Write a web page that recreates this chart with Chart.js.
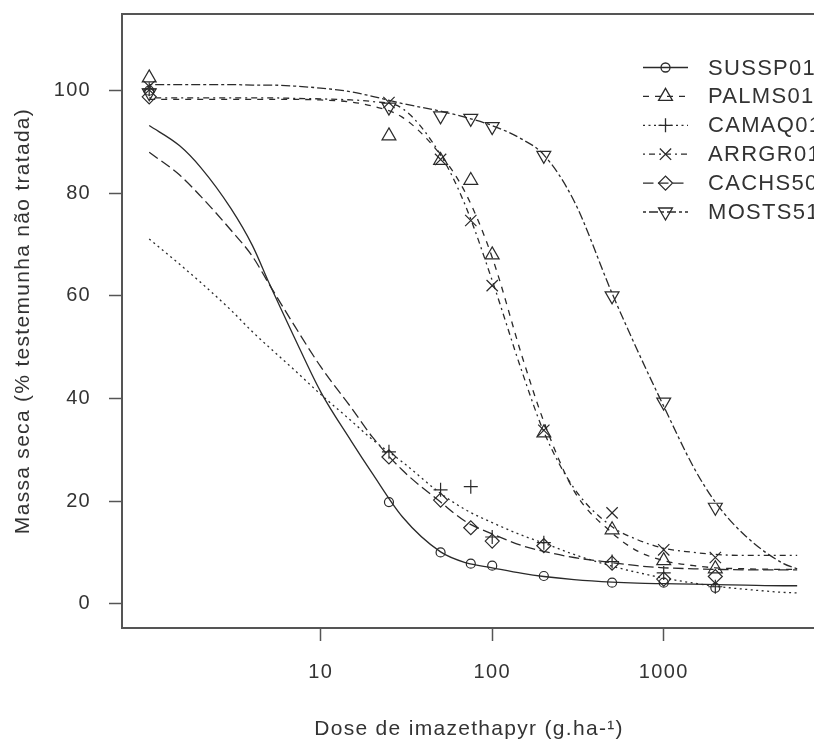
<!doctype html>
<html lang="pt">
<head>
<meta charset="UTF-8">
<title>Massa seca x dose de imazethapyr</title>
<style>
  html, body { margin: 0; padding: 0; background: #fff; overflow: hidden; }
  #wrap { width: 830px; height: 745px; }
</style>
</head>
<body>
<div id="wrap"><canvas id="grafico" width="830" height="745"></canvas></div>
<script src="https://cdn.jsdelivr.net/npm/chart.js"></script>
<script>
// doses observadas (a testemunha, dose 0, aparece em 1 no eixo log)
const doses = [1, 25, 50, 75, 100, 200, 500, 1000, 2000];
const obsSUSSP01 = [100, 19.8, 10.0, 7.8, 7.4, 5.4, 4.1, 4.1, 3.1];
const obsPALMS01 = [102.5, 91.2, 86.4, 82.5, 68.0, 33.3, 14.4, 8.4, 6.8];
const obsCAMAQ01 = [100.3, 29.6, 22.2, 22.8, 13.0, 11.9, 8.2, 6.0, 3.3];
const obsARRGR01 = [100.8, 97.7, 86.6, 74.7, 62.0, 33.8, 17.7, 10.5, 9.0];
const obsCACHS50 = [98.8, 28.6, 20.2, 14.8, 12.2, 11.3, 7.9, 4.8, 5.3];
const obsMOSTS51 = [99.6, 96.8, 95.1, 94.6, 93.0, 87.4, 60.0, 39.3, 18.8];

// curvas ajustadas
const dosesCurva = [1, 1.5, 2, 3, 4, 5, 7, 10, 15, 20, 30, 50, 70, 100, 150, 200, 300, 500, 700, 1000, 1500, 2000, 3000, 5000, 6000];
const curvaSUSSP01 = [93.2, 89.3, 85.0, 77.0, 69.8, 62.5, 52.0, 41.3, 31.8, 25.4, 16.9, 10.1, 8.0, 7.0, 5.9, 5.3, 4.7, 4.2, 4.0, 3.9, 3.8, 3.7, 3.6, 3.5, 3.5];
const curvaPALMS01 = [98.3, 98.3, 98.3, 98.3, 98.3, 98.3, 98.3, 98.2, 97.8, 97.0, 94.8, 87.5, 80.0, 67.5, 48.0, 35.5, 22.0, 13.8, 10.3, 8.4, 7.4, 7.0, 6.8, 6.7, 6.7];
const curvaCAMAQ01 = [71.1, 66.2, 62.6, 57.2, 53.0, 50.0, 45.6, 40.8, 35.7, 32.0, 27.6, 21.5, 18.3, 15.8, 13.3, 11.8, 9.6, 7.3, 6.1, 5.0, 4.0, 3.4, 2.8, 2.2, 2.1];
const curvaARRGR01 = [98.6, 98.6, 98.6, 98.6, 98.6, 98.6, 98.5, 98.4, 98.2, 97.9, 96.5, 87.5, 77.5, 63.0, 45.0, 33.5, 22.5, 15.0, 12.5, 10.8, 10.0, 9.6, 9.4, 9.4, 9.4];
const curvaCACHS50 = [88.0, 83.6, 79.4, 72.8, 67.7, 62.3, 54.3, 46.2, 38.3, 32.5, 26.0, 19.8, 16.0, 13.6, 11.3, 10.2, 9.0, 8.0, 7.4, 7.0, 6.8, 6.7, 6.6, 6.6, 6.6];
const curvaMOSTS51 = [101.2, 101.2, 101.2, 101.2, 101.1, 101.1, 100.9, 100.5, 99.8, 98.9, 97.5, 96.0, 94.8, 93.2, 90.5, 87.5, 78.5, 60.5, 49.5, 38.5, 26.5, 19.8, 13.2, 7.8, 6.8];

const ticksX = [10, 100, 1000];
const ticksY = [0, 20, 40, 60, 80, 100];

const fonte = '"Liberation Sans", Arial, sans-serif';
const cor = '#2a2a2a';
const corTexto = '#333';

// estilo de cada acesso: nome, simbolo, tracejado
const series = [
  { nome: 'SUSSP01', obs: obsSUSSP01, curva: curvaSUSSP01, ponto: 'circle',   raio: 4.5, rot: 0,   traco: [] },
  { nome: 'PALMS01', obs: obsPALMS01, curva: curvaPALMS01, ponto: 'triangle', raio: 8,   rot: 0,   traco: [6, 6] },
  { nome: 'CAMAQ01', obs: obsCAMAQ01, curva: curvaCAMAQ01, ponto: 'cross',    raio: 7,   rot: 0,   traco: [2, 3.5] },
  { nome: 'ARRGR01', obs: obsARRGR01, curva: curvaARRGR01, ponto: 'crossRot', raio: 8,   rot: 0,   traco: [2, 4, 6, 4] },
  { nome: 'CACHS50', obs: obsCACHS50, curva: curvaCACHS50, ponto: 'rectRot',  raio: 7,   rot: 0,   traco: [10.5, 4.5] },
  { nome: 'MOSTS51', obs: obsMOSTS51, curva: curvaMOSTS51, ponto: 'triangle', raio: 8,   rot: 180, traco: [3, 3, 9, 3] }
];

const datasets = [];
series.forEach(s => {
  datasets.push({
    label: s.nome,
    data: dosesCurva.map((d, i) => ({ x: d, y: s.curva[i] })),
    borderColor: cor,
    borderWidth: 1.3,
    borderDash: s.traco,
    pointRadius: 0,
    fill: false,
    cubicInterpolationMode: 'monotone'
  });
  datasets.push({
    label: s.nome + ' obs',
    data: doses.map((d, i) => ({ x: d, y: s.obs[i] })),
    showLine: false,
    pointStyle: s.ponto,
    pointRadius: s.raio,
    pointRotation: s.rot,
    pointBorderColor: cor,
    pointBackgroundColor: 'rgba(0,0,0,0)',
    pointBorderWidth: 1.2
  });
});

const espacamento = {
  id: 'espacamento',
  beforeLayout(chart) { chart.ctx.letterSpacing = '1.3px'; },
  beforeDraw(chart) { chart.ctx.letterSpacing = '1.3px'; }
};

const moldura = {
  id: 'moldura',
  afterDraw(chart) {
    const a = chart.chartArea, ctx = chart.ctx;
    ctx.save();
    ctx.strokeStyle = '#555';
    ctx.lineWidth = 2;
    ctx.strokeRect(a.left, a.top, a.right - a.left, a.bottom - a.top);
    ctx.restore();
  }
};

const legenda = {
  id: 'legenda',
  afterDatasetsDraw(chart) {
    const ctx = chart.ctx;
    ctx.save();
    ctx.letterSpacing = '1.3px';
    series.forEach((s, i) => {
      const y = 67.5 + i * 28.9;
      ctx.strokeStyle = cor;
      ctx.lineWidth = 1.3;
      ctx.setLineDash(s.traco);
      ctx.beginPath();
      ctx.moveTo(643, y);
      ctx.lineTo(688, y);
      ctx.stroke();
      ctx.setLineDash([]);
      ctx.fillStyle = 'rgba(0,0,0,0)';
      Chart.helpers.drawPoint(ctx, { pointStyle: s.ponto, radius: s.raio, rotation: s.rot, borderWidth: 1.2 }, 665.5, y);
      ctx.fillStyle = corTexto;
      ctx.font = '22px ' + fonte;
      ctx.textAlign = 'left';
      ctx.textBaseline = 'middle';
      ctx.fillText(s.nome, 708, y + 1);
    });
    ctx.restore();
  }
};

new Chart(document.getElementById('grafico'), {
  type: 'line',
  data: { datasets: datasets },
  options: {
    responsive: false,
    animation: false,
    devicePixelRatio: 1,
    layout: { padding: { top: 14, right: 14, left: 0, bottom: 0 } },
    plugins: { legend: { display: false }, tooltip: { enabled: false } },
    scales: {
      x: {
        type: 'logarithmic',
        min: 0.694,
        max: 7727,
        afterBuildTicks: s => { s.ticks = ticksX.map(v => ({ value: v })); },
        afterFit: s => { s.height = 117; s.paddingLeft = 0; s.paddingRight = 0; },
        grid: { drawOnChartArea: false, drawTicks: true, tickLength: 13, tickColor: '#555', tickWidth: 1.5 },
        border: { display: false },
        ticks: { color: corTexto, font: { family: fonte, size: 20 }, padding: 19, maxRotation: 0, autoSkip: false, callback: v => String(v) },
        title: { display: true, text: 'Dose de imazethapyr (g.ha-¹)', color: corTexto, font: { family: fonte, size: 21 }, padding: { top: 0, bottom: 3 } }
      },
      y: {
        min: -4.74,
        max: 114.95,
        afterBuildTicks: s => { s.ticks = ticksY.map(v => ({ value: v })); },
        afterFit: s => { s.width = 122; s.paddingTop = 0; s.paddingBottom = 0; },
        grid: { drawOnChartArea: false, drawTicks: true, tickLength: 13, tickColor: '#555', tickWidth: 1.5 },
        border: { display: false },
        ticks: { color: corTexto, font: { family: fonte, size: 20 }, padding: 18 },
        title: { display: true, text: 'Massa seca (% testemunha não tratada)', color: corTexto, font: { family: fonte, size: 21 }, padding: { top: 11, bottom: 0 } }
      }
    }
  },
  plugins: [espacamento, moldura, legenda]
});
</script>
</body>
</html>
